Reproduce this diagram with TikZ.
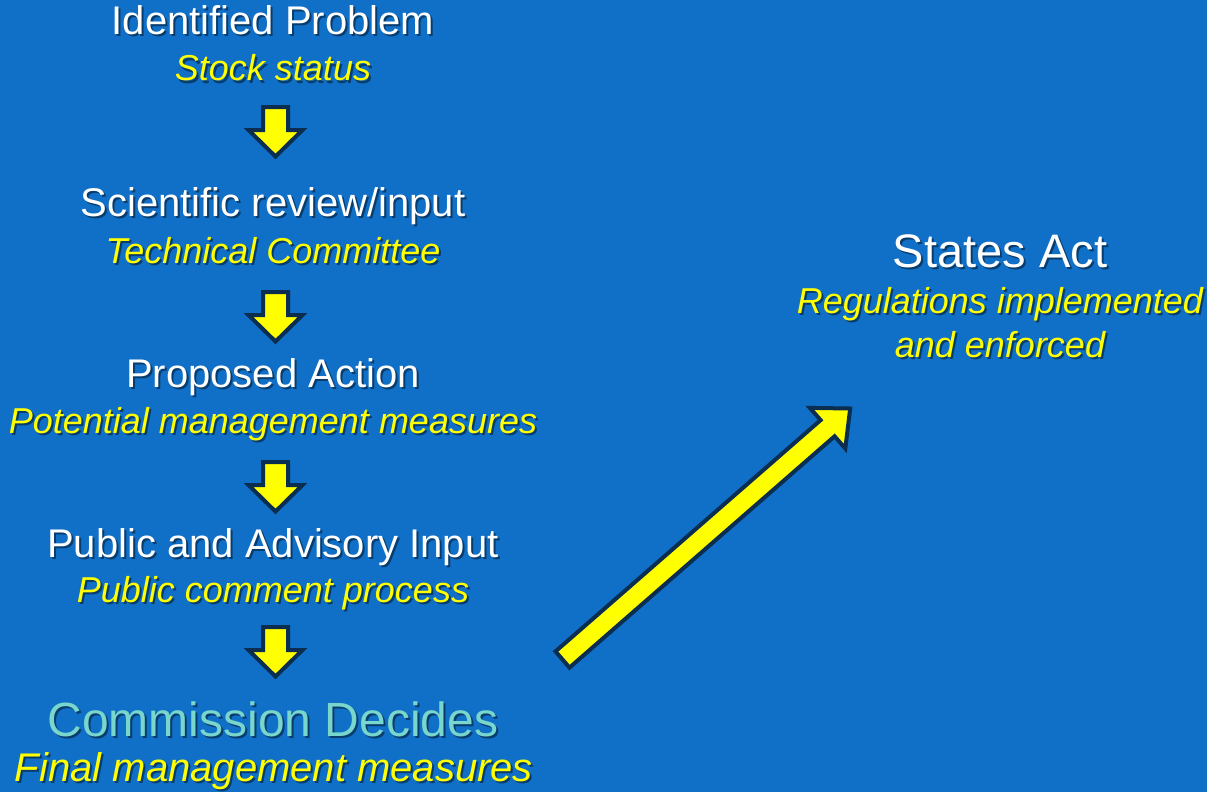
\documentclass[tikz,border=0pt]{standalone}
\usepackage{fontspec}
\setmainfont{Liberation Sans}
\usetikzlibrary{calc}
\definecolor{bgblue}{RGB}{16,111,198}
\definecolor{arrownavy}{RGB}{10,45,80}
\definecolor{commteal}{RGB}{120,214,204}
\definecolor{subyellow}{RGB}{255,255,0}
\tikzset{
  maintext/.style={text=white, font=\fontsize{40}{48}\selectfont, anchor=base, inner sep=0pt},
  subtext/.style={text=subyellow, font=\fontsize{36}{43}\selectfont\itshape, anchor=base, inner sep=0pt},
  bigsubtext/.style={text=subyellow, font=\fontsize{40}{48}\selectfont\itshape, anchor=base, inner sep=0pt},
  commtext/.style={text=commteal, font=\fontsize{48}{58}\selectfont, anchor=base, inner sep=0pt},
  statestext/.style={text=white, font=\fontsize{47}{56}\selectfont, anchor=base, inner sep=0pt},
  shade/.style={text=black, opacity=0.45},
  blockarrow/.style={fill=subyellow, draw=arrownavy, line width=4pt, line join=miter},
  downarrow/.pic={\path[blockarrow] (-12.5,2) -- (12.5,2) -- (12.5,25) -- (27,25) -- (0,51.5) -- (-27,25) -- (-12.5,25) -- cycle;}
}
\newcommand\stxt[4]{\node[#1,shade] at ($(#3)+(2,2)$) {#4}; \node[#1] (#2) at (#3) {#4};}
\begin{document}
\begin{tikzpicture}[x=1pt,y=-1pt]
\fill[bgblue] (0,0) rectangle (1207,792);
\useasboundingbox (0,0) rectangle (1207,792);

\stxt{maintext}{p1}{273,35}{Identified Problem}
\stxt{subtext}{s1}{273,81}{Stock status}
\stxt{maintext}{p2}{273,216}{Scientific review/input}
\stxt{subtext}{s2}{273,263}{Technical Committee}
\stxt{maintext}{p3}{273,387}{Proposed Action}
\stxt{subtext}{s3}{273,433}{Potential management measures}
\stxt{maintext}{p4}{273,557}{Public and Advisory Input}
\stxt{subtext}{s4}{273,602}{Public comment process}
\stxt{commtext}{p5}{273,736}{Commission Decides}
\stxt{bigsubtext}{s5}{274,781}{Final management measures}

\stxt{statestext}{st}{1000,267}{States Act}
\stxt{subtext}{r1}{1000,313}{Regulations implemented}
\stxt{subtext}{r2}{1000,357}{and enforced}

\pic at (275.5,105) {downarrow};
\pic at (275.5,290) {downarrow};
\pic at (275.5,460) {downarrow};
\pic at (275.5,625) {downarrow};

% big diagonal block arrow
\coordinate (tailA) at (555.5,651.4);
\coordinate (tailB) at (569.5,667.6);
\coordinate (shaftC) at (820.6,420.1);
\coordinate (shaftD) at (834.6,436.3);
\coordinate (barbE) at (809.9,407.9);
\coordinate (barbF) at (845.3,448.5);
\coordinate (tip) at (850.2,408.5);
\path[blockarrow] (tailA) -- (shaftC) -- (barbE) -- (tip) -- (barbF) -- (shaftD) -- (tailB) -- cycle;
\end{tikzpicture}
\end{document}
